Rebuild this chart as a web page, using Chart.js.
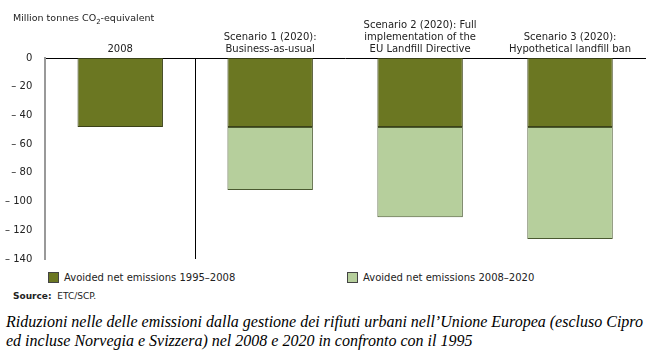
<!DOCTYPE html>
<html><head><meta charset="utf-8">
<script src="https://cdn.jsdelivr.net/npm/chart.js@4"></script>
<style>
body{margin:0;background:#fff;width:648px;height:353px;overflow:hidden;font-family:"DejaVu Sans",Verdana,sans-serif;}
#wrap{position:absolute;left:0;top:0;width:648px;height:270px;}
#ttl{position:absolute;left:13px;top:12px;font-size:9.5px;color:#222;}
#ttl sub{font-size:7px;}
.leg{position:absolute;top:272px;font-size:10px;color:#222;display:flex;align-items:center;}
.sw{width:9px;height:9px;border:1px solid #444;margin-right:5px;}
#src{position:absolute;left:13px;top:291px;font-size:9px;color:#222;}
#cap{position:absolute;left:6px;top:312px;font-family:"Liberation Serif","Times New Roman",serif;font-style:italic;font-size:16px;letter-spacing:0;line-height:19px;color:#000;white-space:nowrap;}
</style></head><body>
<div id="wrap"><canvas id="c"></canvas></div>
<div id="ttl">Million tonnes CO<sub>2</sub>-equivalent</div>
<div class="leg" style="left:48px"><div class="sw" style="background:#6b7722"></div>Avoided net emissions 1995–2008</div>
<div class="leg" style="left:347px"><div class="sw" style="background:#b6cf9c"></div>Avoided net emissions 2008–2020</div>
<div id="src"><b>Source:</b>&nbsp;&nbsp;ETC/SCP.</div>
<div id="cap">Riduzioni nelle delle emissioni dalla gestione dei rifiuti urbani nell’Unione Europea (escluso Cipro<br>ed incluse Norvegia e Svizzera) nel 2008 e 2020 in confronto con il 1995</div>
<script>
const categories = [
  ["2008"],
  ["Scenario 1 (2020):", "Business-as-usual"],
  ["Scenario 2 (2020): Full", "implementation of the", "EU Landfill Directive"],
  ["Scenario 3 (2020):", "Hypothetical landfill ban"]
];
const seriesNames = ["Avoided net emissions 1995–2008", "Avoided net emissions 2008–2020"];
const avoided1995to2008 = [-48, -48, -48, -48];
const avoided2008to2020 = [0, -44, -63, -78];
const yTicks = [0, -20, -40, -60, -80, -100, -120, -140];

new Chart(document.getElementById('c'), {
  type: 'bar',
  data: {
    labels: categories,
    datasets: [
      {label: seriesNames[0], data: avoided1995to2008, backgroundColor: '#6b7722', borderColor: '#3b4218', borderWidth: 1, borderSkipped: false},
      {label: seriesNames[1], data: avoided2008to2020, backgroundColor: '#b6cf9c', borderColor: '#4a5a30', borderWidth: 1, borderSkipped: false}
    ]
  },
  options: {
    responsive: true,
    maintainAspectRatio: false,
    animation: false,
    layout: {padding: {left: 0, right: 3, top: 16, bottom: 3}},
    plugins: {
      legend: {display: false},
      tooltip: {enabled: false},
      title: {display: false}
    },
    datasets: {bar: {categoryPercentage: 1, barPercentage: 0.57}},
    scales: {
      x: {
        position: 'top', stacked: true, offset: true,
        border: {display: true, color: '#000', width: 1},
        grid: {display: true, offset: true, drawTicks: false, drawOnChartArea: true,
          color: ctx => (ctx.index === 1 ? '#000' : 'rgba(0,0,0,0)'), lineWidth: 1},
        ticks: {color: '#222', font: {family: '"DejaVu Sans"', size: 10}, padding: 3, maxRotation: 0, autoSkip: false}
      },
      y: {
        stacked: true, min: -140, max: 0,
        afterBuildTicks: s => { s.ticks = yTicks.map(v => ({value: v})); },
        border: {display: true, color: '#999', width: 2},
        grid: {display: false},
        ticks: {color: '#222', font: {family: '"DejaVu Sans"', size: 10}, padding: 5,
          callback: v => v === 0 ? '0' : '– ' + Math.abs(v)}
      }
    }
  }
});
</script>
</body></html>
